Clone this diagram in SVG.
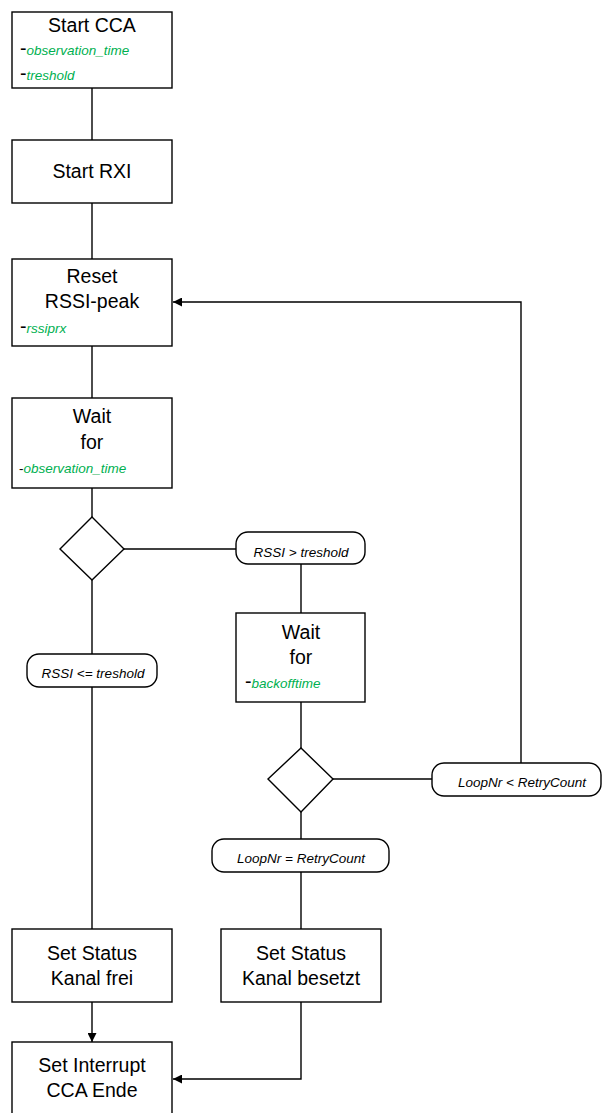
<svg xmlns="http://www.w3.org/2000/svg" width="602" height="1113" viewBox="0 0 602 1113">
  <style>
    .box { fill: #ffffff; stroke: #000000; stroke-width: 1.4; }
    .lbl { fill: #ffffff; stroke: #000000; stroke-width: 1.4; }
    .line { fill: none; stroke: #000000; stroke-width: 1.4; }
    .t { font-family: "Liberation Sans", Arial, sans-serif; font-size: 19.5px; fill: #000000; text-anchor: middle; }
    .c { font-family: "Liberation Sans", Arial, sans-serif; font-size: 13.5px; font-style: italic; fill: #000000; text-anchor: middle; }
    .p { font-family: "Liberation Sans", Arial, sans-serif; font-size: 13.5px; }
    .dash { font-size: 19.5px; fill: #000000; font-style: normal; }
    .dsm { font-size: 13.5px; fill: #000000; font-style: normal; }
    .g { fill: #00b050; font-style: italic; }
  </style>
  <defs>
    <marker id="arrow" viewBox="0 0 10 10" refX="10" refY="5" markerWidth="9" markerHeight="9" markerUnits="userSpaceOnUse" orient="auto">
      <path d="M0,0 L10,5 L0,10 Z" fill="#000000"/>
    </marker>
  </defs>
  <rect width="602" height="1113" fill="#ffffff"/>

  <!-- connectors -->
  <g id="connectors">
    <path class="line" d="M92,88 V140"/>
    <path class="line" d="M92,203 V259"/>
    <path class="line" d="M92,346 V398"/>
    <path class="line" d="M92,488 V517"/>
    <path class="line" d="M124,549 H236"/>
    <path class="line" d="M301,564 V613"/>
    <path class="line" d="M92,580 V654"/>
    <path class="line" d="M92,687 V929"/>
    <path class="line" d="M301,702 V748"/>
    <path class="line" d="M333,779 H432"/>
    <path class="line" d="M521,763 V302 H173" marker-end="url(#arrow)"/>
    <path class="line" d="M301,812 V839"/>
    <path class="line" d="M301,872 V929"/>
    <path class="line" d="M92,1002 V1042" marker-end="url(#arrow)"/>
    <path class="line" d="M301,1002 V1079 H173" marker-end="url(#arrow)"/>
  </g>

  <g id="start-cca">
    <rect class="box" x="12" y="12" width="160" height="76"/>
    <text class="t" x="92" y="32">Start CCA</text>
    <text class="p" x="20" y="55"><tspan class="dash">-</tspan><tspan class="g">observation_time</tspan></text>
    <text class="p" x="20" y="80"><tspan class="dash">-</tspan><tspan class="g">treshold</tspan></text>
  </g>

  <g id="start-rxi">
    <rect class="box" x="12" y="140" width="160" height="63"/>
    <text class="t" x="92" y="178">Start RXI</text>
  </g>

  <g id="reset-rssi">
    <rect class="box" x="12" y="259" width="160" height="87"/>
    <text class="t" x="92" y="283">Reset</text>
    <text class="t" x="92" y="308">RSSI-peak</text>
    <text class="p" x="20" y="333"><tspan class="dash">-</tspan><tspan class="g">rssiprx</tspan></text>
  </g>

  <g id="wait-observation">
    <rect class="box" x="12" y="398" width="160" height="90"/>
    <text class="t" x="92" y="423">Wait</text>
    <text class="t" x="92" y="449">for</text>
    <text class="p" x="19" y="473"><tspan class="dsm">-</tspan><tspan class="g">observation_time</tspan></text>
  </g>

  <g id="decision-rssi">
    <path class="box" d="M92,517 L124,549 L92,580 L60,549 Z"/>
  </g>

  <g id="label-rssi-greater">
    <rect class="lbl" x="236" y="532" width="129" height="32" rx="12" ry="12"/>
    <text class="c" x="301" y="557">RSSI &gt; treshold</text>
  </g>

  <g id="label-rssi-lessequal">
    <rect class="lbl" x="27" y="654" width="130" height="33" rx="12" ry="12"/>
    <text class="c" x="93" y="678">RSSI &lt;= treshold</text>
  </g>

  <g id="wait-backoff">
    <rect class="box" x="236" y="613" width="129" height="89"/>
    <text class="t" x="301" y="639">Wait</text>
    <text class="t" x="301" y="664">for</text>
    <text class="p" x="245" y="688"><tspan class="dash">-</tspan><tspan class="g">backofftime</tspan></text>
  </g>

  <g id="decision-loop">
    <path class="box" d="M301,748 L333,779 L301,812 L268,779 Z"/>
  </g>

  <g id="label-loop-less">
    <rect class="lbl" x="432" y="763" width="169" height="33" rx="12" ry="12"/>
    <text class="c" x="522" y="787">LoopNr &lt; RetryCount</text>
  </g>

  <g id="label-loop-equal">
    <rect class="lbl" x="212" y="839" width="177" height="33" rx="12" ry="12"/>
    <text class="c" x="301" y="863">LoopNr = RetryCount</text>
  </g>

  <g id="status-free">
    <rect class="box" x="12" y="929" width="160" height="73"/>
    <text class="t" x="92" y="960">Set Status</text>
    <text class="t" x="92" y="985">Kanal frei</text>
  </g>

  <g id="status-busy">
    <rect class="box" x="221" y="929" width="160" height="73"/>
    <text class="t" x="301" y="960">Set Status</text>
    <text class="t" x="301" y="985">Kanal besetzt</text>
  </g>

  <g id="set-interrupt">
    <rect class="box" x="12" y="1042" width="160" height="76"/>
    <text class="t" x="92" y="1072">Set Interrupt</text>
    <text class="t" x="92" y="1097">CCA Ende</text>
  </g>
</svg>
